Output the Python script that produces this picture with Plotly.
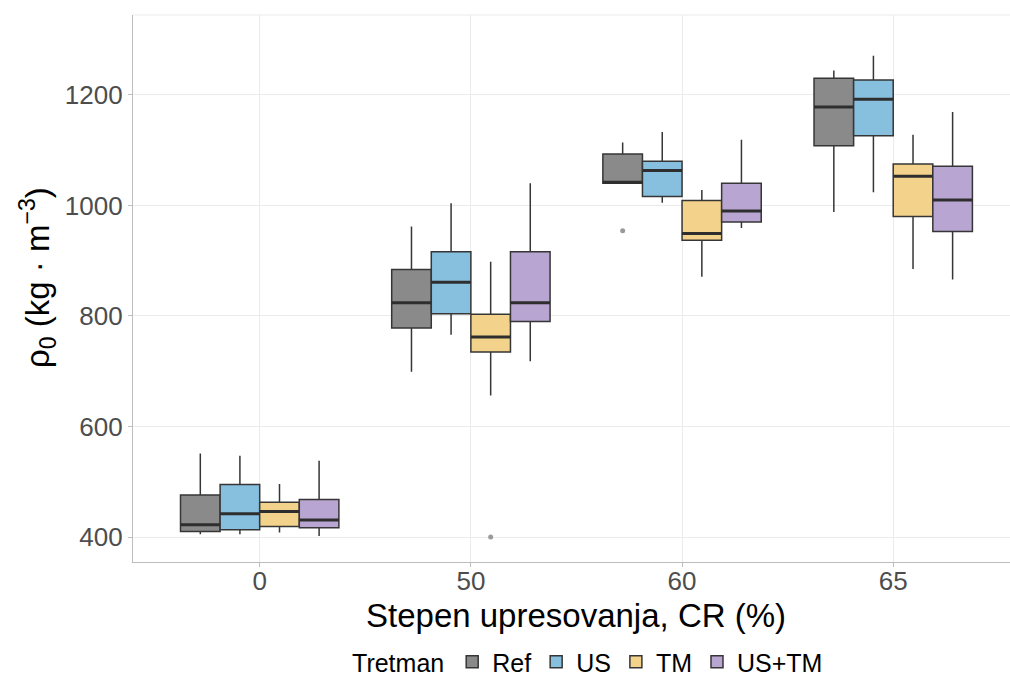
import plotly.graph_objects as go

# Compression ratio groups (x axis)
categories = ["0", "50", "60", "65"]
treatments = ["Ref", "US", "TM", "US+TM"]

# Box statistics per treatment, one value per compression group
ref_low = [405, 699, 1040, 988]
ref_q1 = [410, 778, 1040, 1108]
ref_med = [422, 824, 1042, 1178]
ref_q3 = [476, 884, 1093, 1230]
ref_high = [551, 962, 1114, 1244]

us_low = [405, 766, 1005, 1024]
us_q1 = [413, 804, 1016, 1126]
us_med = [442, 861, 1063, 1192]
us_q3 = [495, 916, 1080, 1227]
us_high = [547, 1004, 1133, 1271]

tm_low = [408, 656, 871, 885]
tm_q1 = [419, 735, 937, 980]
tm_med = [446, 762, 949, 1053]
tm_q3 = [463, 803, 1009, 1075]
tm_high = [496, 898, 1028, 1128]

ustm_low = [402, 718, 959, 866]
ustm_q1 = [417, 790, 970, 953]
ustm_med = [431, 824, 990, 1010]
ustm_q3 = [468, 916, 1040, 1071]
ustm_high = [538, 1040, 1119, 1169]

# Outlying observations: (treatment, group, value)
outlier_treatment = ["Ref", "TM"]
outlier_group = ["60", "50"]
outlier_value = [954, 400]

stats = {
    "Ref": (ref_low, ref_q1, ref_med, ref_q3, ref_high),
    "US": (us_low, us_q1, us_med, us_q3, us_high),
    "TM": (tm_low, tm_q1, tm_med, tm_q3, tm_high),
    "US+TM": (ustm_low, ustm_q1, ustm_med, ustm_q3, ustm_high),
}
fills = {
    "Ref": "#8a8a8a",
    "US": "#87bfdf",
    "TM": "#f3d38b",
    "US+TM": "#b9a5d2",
}

# dodge layout: boxes share 0.75 of each category slot
dodge = 0.75
bw = dodge / len(treatments)
offsets = {t: -dodge / 2 + bw * (i + 0.5) for i, t in enumerate(treatments)}
gx = {c: i for i, c in enumerate(categories)}

edge = "#363636"
fig = go.Figure()

for t in treatments:
    lo, q1, med, q3, hi = stats[t]
    xs = [gx[c] + offsets[t] for c in categories]
    fig.add_trace(go.Box(
        name=t,
        x=xs,
        lowerfence=lo, q1=q1, median=med, q3=q3, upperfence=hi,
        width=bw,
        fillcolor=fills[t],
        line=dict(color=edge, width=1.5),
        whiskerwidth=0,
        boxpoints=False,
        hoverinfo="skip",
    ))

# thicker median bars
for t in treatments:
    med = stats[t][2]
    mx, my = [], []
    for c, m in zip(categories, med):
        xc = gx[c] + offsets[t]
        mx += [xc - bw / 2, xc + bw / 2, None]
        my += [m, m, None]
    fig.add_trace(go.Scatter(
        x=mx, y=my, mode="lines",
        line=dict(color="#2e2e2e", width=3),
        showlegend=False, hoverinfo="skip",
    ))

# outlier points
fig.add_trace(go.Scatter(
    x=[gx[g] + offsets[t] for t, g in zip(outlier_treatment, outlier_group)],
    y=outlier_value,
    mode="markers",
    marker=dict(color="#9a9a9a", size=5),
    showlegend=False, hoverinfo="skip",
))

font_family = "Liberation Sans, Arial, sans-serif"
tick_color = "#4d4d4d"
grid = "#ebebeb"

fig.update_layout(
    width=1010, height=677,
    margin=dict(l=133, r=0, t=15, b=115, autoexpand=False),
    paper_bgcolor="white", plot_bgcolor="white",
    boxmode="overlay",
    font=dict(family=font_family, color="black"),
    xaxis=dict(
        range=[-0.6, 3.553],
        tickmode="array", tickvals=list(range(len(categories))), ticktext=categories,
        tickfont=dict(size=26, color=tick_color),
        ticklabelstandoff=-8,
        showgrid=True, gridcolor=grid, gridwidth=1,
        zeroline=False,
        showline=True, linecolor="#bdbdbd", linewidth=1.2,
        ticks="outside", ticklen=4, tickcolor="#bdbdbd",
        automargin=False,
    ),
    yaxis=dict(
        range=[354.8, 1344.6],
        tickvals=[400, 600, 800, 1000, 1200],
        tickfont=dict(size=26, color=tick_color),
        showgrid=True, gridcolor=grid, gridwidth=1,
        zeroline=False,
        showline=True, linecolor="#bdbdbd", linewidth=1.2,
        ticks="outside", ticklen=4, tickcolor="#bdbdbd",
        automargin=False,
    ),
    legend=dict(
        orientation="h",
        x=0.52, xanchor="center",
        yref="container", y=0.022, yanchor="middle",
        title=dict(text="Tretman", font=dict(size=25)),
        font=dict(size=25),
        itemwidth=30,
        tracegroupgap=0,
    ),
    annotations=[
        dict(
            text="Stepen upresovanja, CR (%)",
            xref="x", yref="paper", x=1.5, y=-0.097,
            xanchor="center", yanchor="middle",
            showarrow=False, font=dict(size=33),
        ),
        dict(
            text="ρ<sub>0</sub> (kg · m<sup>−3</sup>)",
            xref="paper", yref="paper", x=-0.109, y=0.52,
            xanchor="center", yanchor="middle", textangle=-90,
            showarrow=False, font=dict(size=33),
        ),
    ],
    shapes=[
        dict(type="line", xref="paper", yref="paper", x0=0, x1=1, y0=1, y1=1,
             line=dict(color=grid, width=1)),
    ],
)

fig.write_html("out.html")
